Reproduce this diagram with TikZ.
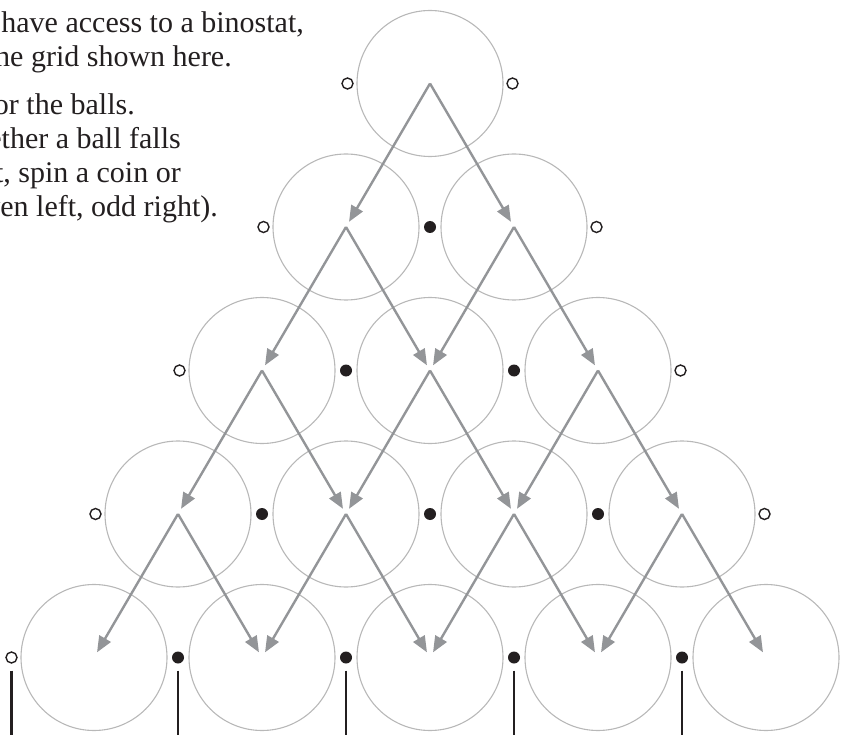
\documentclass[tikz,border=0pt]{standalone}
\usepackage{fontspec}
\setmainfont{Liberation Serif}
\usetikzlibrary{arrows.meta}
\definecolor{ink}{HTML}{231F20}
\definecolor{ringgray}{HTML}{B8B8B8}
\definecolor{arrowgray}{HTML}{939598}
\begin{document}
\begin{tikzpicture}[x=1pt,y=-1pt,
  ring/.style={circle, draw=ringgray, line width=1.1pt, minimum size=146pt, inner sep=0pt},
  arr/.style={draw=arrowgray, line width=2.4pt, -{Triangle[length=16pt,width=13pt]}, shorten >=6pt},
  hole/.style={circle, draw=ink, line width=1.4pt, minimum size=11pt, inner sep=0pt, fill=white},
  peg/.style={circle, fill=ink, minimum size=12pt, inner sep=0pt},
  post/.style={draw=ink, line width=2.5pt},
  txt/.style={font=\fontsize{30}{34}\selectfont, text=ink, anchor=base east, inner sep=0pt}]
\useasboundingbox (0,0) rectangle (843,735);
\clip (0,0) rectangle (843,735);
% text
\node[txt] (t1) at (304,33) {have access to a binostat,};
\node[txt] (t2) at (232,67) {the grid shown here.};
\node[txt] (t3) at (135,115) {for the balls.};
\node[txt] (t4) at (181,149) {whether a ball falls};
\node[txt] (t5) at (181,183) {right, spin a coin or};
\node[txt] (t6) at (218,217) {(even left, odd right).};
% rings
\foreach \r in {0,...,4} {
  \foreach \k in {0,...,\r} {
    \pgfmathsetmacro\cx{430+(2*\k-\r)*84}
    \node[ring] (c\r\k) at (\cx, 83.5+143.5*\r) {};
  }
}
% arrows
\foreach \r in {0,...,3} {
  \foreach \k in {0,...,\r} {
    \pgfmathtruncatemacro\rr{\r+1}
    \pgfmathtruncatemacro\kk{\k+1}
    \draw[arr] (c\r\k.center) -- (c\rr\k.center);
    \draw[arr] (c\r\k.center) -- (c\rr\kk.center);
  }
}
% pegs and holes
\foreach \r in {0,...,4} {
  \pgfmathtruncatemacro\last{\r+1}
  \foreach \j in {0,...,\last} {
    \pgfmathsetmacro\dx{430+(2*\j-\r-1)*84}
    \ifnum\j=0
      \node[hole] (d\r\j) at (\dx+1.5, 83.5+143.5*\r) {};
    \else\ifnum\j=\last
      \ifnum\r<4
        \node[hole] (d\r\j) at (\dx-1.5, 83.5+143.5*\r) {};
      \fi
    \else
      \node[peg] (d\r\j) at (\dx, 83.5+143.5*\r) {};
    \fi\fi
  }
}
% posts below bottom row
\foreach \j in {0,...,4} {
  \draw[post] ([yshift=-13pt]d4\j.center) -- ++(0,70);
}
\end{tikzpicture}
\end{document}
